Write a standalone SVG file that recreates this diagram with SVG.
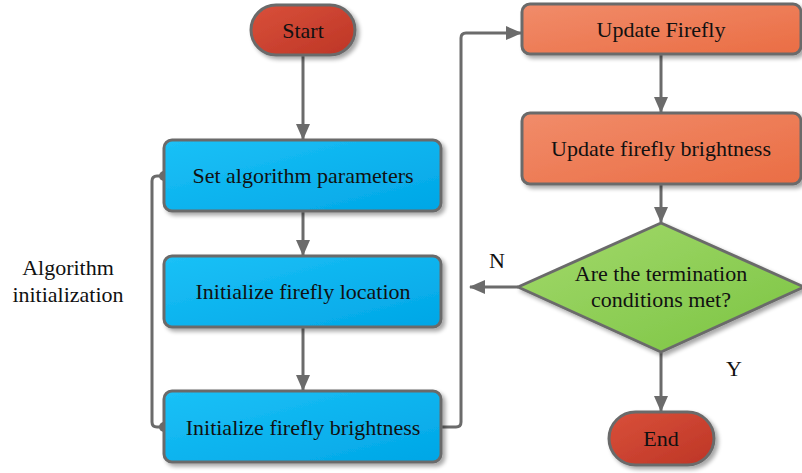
<svg xmlns="http://www.w3.org/2000/svg" width="802" height="473" viewBox="0 0 802 473">
  <defs>
    <linearGradient id="gBlue" x1="0" y1="0" x2="1" y2="1">
      <stop offset="0" stop-color="#1bc1f7"/>
      <stop offset="1" stop-color="#00a6e6"/>
    </linearGradient>
    <linearGradient id="gRed" x1="0" y1="0" x2="1" y2="1">
      <stop offset="0" stop-color="#d9503a"/>
      <stop offset="1" stop-color="#bd3526"/>
    </linearGradient>
    <linearGradient id="gOrange" x1="0" y1="0" x2="1" y2="1">
      <stop offset="0" stop-color="#f18c6a"/>
      <stop offset="1" stop-color="#ea6d44"/>
    </linearGradient>
    <linearGradient id="gGreen" x1="0" y1="0" x2="1" y2="1">
      <stop offset="0" stop-color="#a3d96b"/>
      <stop offset="1" stop-color="#7bc443"/>
    </linearGradient>
    <filter id="shadow" x="-10%" y="-10%" width="130%" height="140%">
      <feGaussianBlur in="SourceAlpha" stdDeviation="2"/>
      <feOffset dx="3" dy="3" result="b"/>
      <feComponentTransfer><feFuncA type="linear" slope="0.35"/></feComponentTransfer>
      <feMerge><feMergeNode/><feMergeNode in="SourceGraphic"/></feMerge>
    </filter>
    <marker id="arrow" viewBox="0 0 16 14" refX="15" refY="7" markerWidth="16" markerHeight="14" markerUnits="userSpaceOnUse" orient="auto">
      <path d="M0,0 L16,7 L0,14 Z" fill="#6b6b6b"/>
    </marker>
  </defs>
  <style>
    .node { stroke: #6b6b6b; stroke-width: 3; filter: url(#shadow); }
    .label { font-family: "Liberation Serif", "Times New Roman", serif; font-size: 22px; fill: #111; text-anchor: middle; }
    .conn { fill: none; stroke: #6b6b6b; stroke-width: 3; stroke-linejoin: round; }
    .dot { fill: #6b6b6b; }
  </style>

  <rect width="802" height="473" fill="#ffffff"/>

  <!-- connectors -->
  <g id="connectors">
    <path class="conn" d="M303,56 L303,139" marker-end="url(#arrow)"/>
    <path class="conn" d="M303,212 L303,255" marker-end="url(#arrow)"/>
    <path class="conn" d="M303,328 L303,390" marker-end="url(#arrow)"/>
    <path class="conn" d="M164,176 L157,176 Q152,176 152,181 L152,422 Q152,427 157,427 L164,427"/>
    <circle class="dot" cx="164" cy="176" r="5"/>
    <circle class="dot" cx="164" cy="427" r="5"/>
    <path class="conn" d="M442,427 L456,427 Q461,427 461,422 L461,38 Q461,33 466,33 L521,33" marker-end="url(#arrow)"/>
    <path class="conn" d="M661,55 L661,112" marker-end="url(#arrow)"/>
    <path class="conn" d="M661,185 L661,222" marker-end="url(#arrow)"/>
    <path class="conn" d="M518,287 L470,287" marker-end="url(#arrow)"/>
    <path class="conn" d="M661,353 L661,411" marker-end="url(#arrow)"/>
  </g>

  <g id="start">
    <rect class="node" x="251" y="5" width="104" height="50" rx="25" fill="url(#gRed)"/>
    <text class="label" x="303" y="38">Start</text>
  </g>

  <g id="set-params">
    <rect class="node" x="164" y="140" width="277" height="71" rx="8" fill="url(#gBlue)"/>
    <text class="label" x="303" y="183">Set algorithm parameters</text>
  </g>

  <g id="init-location">
    <rect class="node" x="164" y="256" width="277" height="71" rx="8" fill="url(#gBlue)"/>
    <text class="label" x="303" y="299">Initialize firefly location</text>
  </g>

  <g id="init-brightness">
    <rect class="node" x="164" y="391" width="277" height="71" rx="8" fill="url(#gBlue)"/>
    <text class="label" x="303" y="435">Initialize firefly brightness</text>
  </g>

  <g id="update-firefly">
    <rect class="node" x="522" y="4" width="279" height="50" rx="8" fill="url(#gOrange)"/>
    <text class="label" x="661" y="37">Update Firefly</text>
  </g>

  <g id="update-brightness">
    <rect class="node" x="522" y="113" width="279" height="71" rx="8" fill="url(#gOrange)"/>
    <text class="label" x="661" y="156">Update firefly brightness</text>
  </g>

  <g id="termination">
    <path class="node" d="M661,223 L804,287 L661,352 L518,287 Z" stroke-linejoin="round" fill="url(#gGreen)"/>
    <text class="label" x="661" y="281">Are the termination</text>
    <text class="label" x="661" y="307">conditions met?</text>
  </g>

  <g id="end">
    <rect class="node" x="609" y="412" width="105" height="53" rx="26.5" fill="url(#gRed)"/>
    <text class="label" x="661" y="446">End</text>
  </g>

  <g id="annotations">
    <text class="label" x="497" y="268">N</text>
    <text class="label" x="734" y="376">Y</text>
    <text class="label" x="68" y="275">Algorithm</text>
    <text class="label" x="68" y="302">initialization</text>
  </g>
</svg>
